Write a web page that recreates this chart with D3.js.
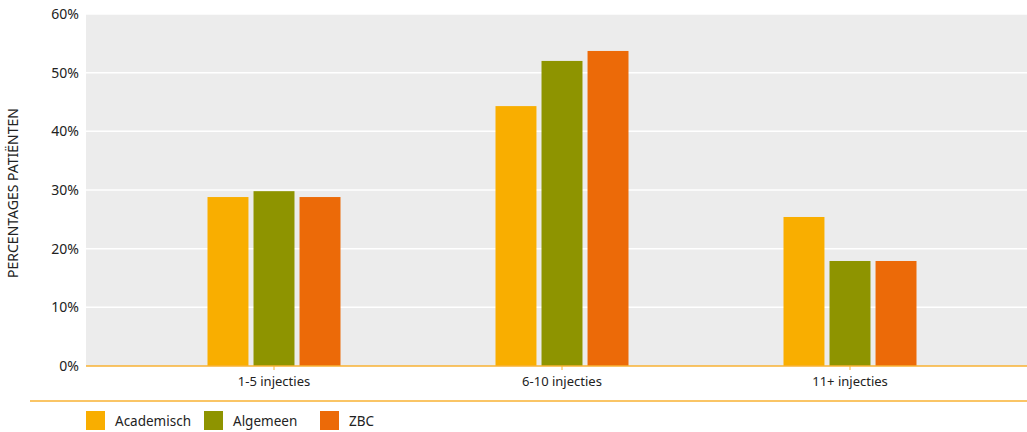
<!DOCTYPE html>
<html><head><meta charset="utf-8">
<script src="https://cdn.jsdelivr.net/npm/d3@7"></script>
<style>
body{margin:0;background:#fff;}
text{font-family:"Noto Sans","Open Sans",sans-serif;fill:#222;}
</style></head>
<body><svg id="c" width="1027" height="432"></svg>
<script>
const categories = ["1-5 injecties","6-10 injecties","11+ injecties"];
const series = ["Academisch","Algemeen","ZBC"];
const academisch = [28.8, 44.3, 25.4];
const algemeen = [29.8, 52.0, 17.9];
const zbc = [28.8, 53.7, 17.9];
const yTicks = [0,10,20,30,40,50,60];
const colors = ["#F9AE00","#8E9400","#EC6A08"];
const values = [academisch, algemeen, zbc];

const svg = d3.select("#c");
const pLeft = 86, pRight = 1027, pTop = 14, pBottom = 366;

const y = d3.scaleLinear().domain([0,60]).range([pBottom, pTop]);
const x0 = d3.scaleBand().domain(categories).range([130, 994]).padding(0);
const x1 = d3.scaleBand().domain(series).range([-66.5, 66.5]).paddingInner(0.11);

svg.append("rect").attr("x", pLeft).attr("y", pTop).attr("width", pRight-pLeft).attr("height", pBottom-pTop).attr("fill","#ECECEC");

svg.append("g").selectAll("line").data(yTicks.filter(d=>d>0)).join("line")
  .attr("x1", pLeft).attr("x2", pRight)
  .attr("y1", d=>y(d)).attr("y2", d=>y(d))
  .attr("stroke","#fff").attr("stroke-width",1.5);

svg.append("g").selectAll("text").data(yTicks).join("text")
  .attr("x", 79).attr("y", d=>y(d)).attr("dy","0.35em")
  .attr("text-anchor","end").attr("font-size",14).text(d=>d+"%");

const groups = svg.append("g").selectAll("g").data(categories).join("g")
  .attr("transform", d=>`translate(${x0(d)+x0.bandwidth()/2},0)`);
groups.selectAll("rect").data((c,i)=>series.map((s,j)=>({s, v: values[j][i], j}))).join("rect")
  .attr("x", d=>x1(d.s)).attr("width", x1.bandwidth())
  .attr("y", d=>y(d.v)).attr("height", d=>pBottom - y(d.v))
  .attr("fill", d=>colors[d.j]);

svg.append("line").attr("x1", pLeft).attr("x2", pRight).attr("y1", pBottom).attr("y2", pBottom)
  .attr("stroke","#F9B233").attr("stroke-width",1.5);
groups.append("line").attr("x1",0).attr("x2",0).attr("y1",pBottom).attr("y2",pBottom+4)
  .attr("stroke","#F9B233").attr("stroke-width",1);
groups.append("text").attr("y", 381).attr("dy","0.35em").attr("text-anchor","middle")
  .attr("font-size",13).text(d=>d);

svg.append("text").attr("transform","translate(13,193) rotate(-90)")
  .attr("dy","0.35em").attr("text-anchor","middle").attr("font-size",14)
  .text("PERCENTAGES PATIËNTEN");

svg.append("line").attr("x1",30).attr("x2",1027).attr("y1",401).attr("y2",401)
  .attr("stroke","#F9B233").attr("stroke-width",1.5);

const legendX = [86, 204, 320];
const lg = svg.append("g").selectAll("g").data(series).join("g")
  .attr("transform",(d,i)=>`translate(${legendX[i]},411)`);
lg.append("rect").attr("width",19).attr("height",19).attr("fill",(d,i)=>colors[i]);
lg.append("text").attr("x",29).attr("y",10).attr("dy","0.35em").attr("font-size",13.5).text(d=>d);
</script></body></html>
